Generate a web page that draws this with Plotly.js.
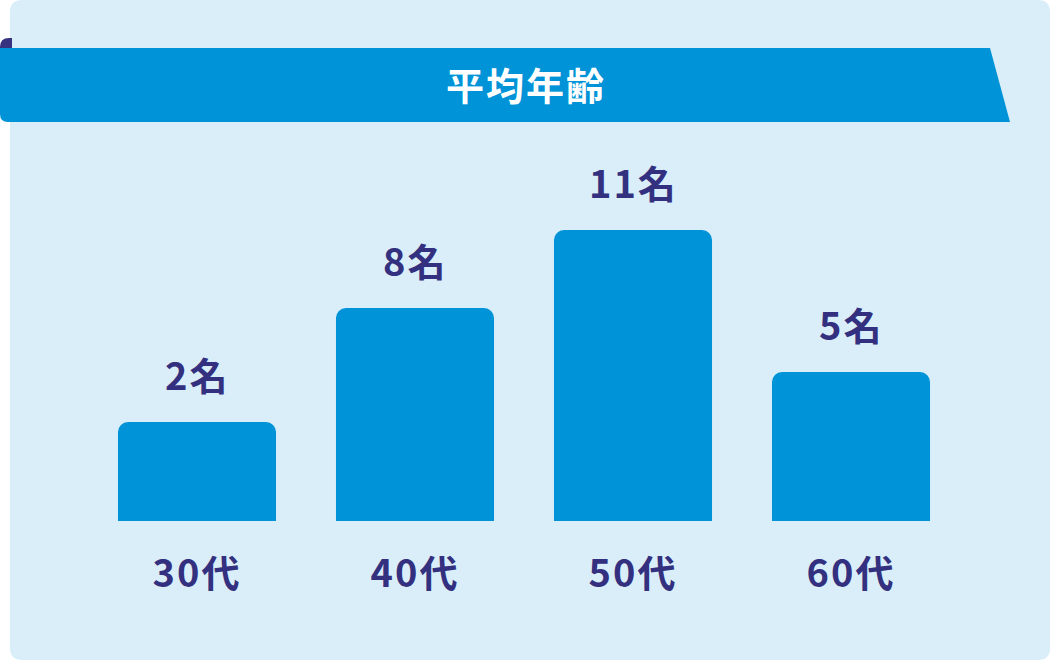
<!DOCTYPE html>
<html>
<head>
<meta charset="utf-8">
<script src="https://cdn.plot.ly/plotly-3.0.1.min.js"></script>
<style>
html,body{margin:0;padding:0;background:#fff;}
#chart{width:1050px;height:660px;}
#chart .annotation-text, #chart .xtick text{letter-spacing:2px;}
#chart .annotation:first-of-type .annotation-text{letter-spacing:4px;}
</style>
</head>
<body>
<div id="chart"></div>
<script>
// ---- data ----
const chartTitle = "平均年齢";
const categories = ["30代", "40代", "50代", "60代"];
const counts = [2, 8, 11, 5];            // label values (名)
const barLength = [99, 213, 291, 149];   // visual bar lengths as drawn in the reference
const countSuffix = "名";

// ---- styling ----
const W = 1050, H = 660;
const blue = "#0093d7", panel = "#d9eef9", ink = "#33307f", tab = "#37337f";
const fontFam = "'Noto Sans CJK JP', 'Noto Sans', sans-serif";
const px = x => x / W, py = y => 1 - y / H;

const panelPath = `M ${px(22)} ${py(0)} L ${px(1038)} ${py(0)} Q ${px(1050)} ${py(0)} ${px(1050)} ${py(12)} L ${px(1050)} ${py(648)} Q ${px(1050)} ${py(660)} ${px(1038)} ${py(660)} L ${px(22)} ${py(660)} Q ${px(10)} ${py(660)} ${px(10)} ${py(648)} L ${px(10)} ${py(12)} Q ${px(10)} ${py(0)} ${px(22)} ${py(0)} Z`;
const tabPath = `M ${px(0)} ${py(50)} L ${px(0)} ${py(47)} Q ${px(0)} ${py(38)} ${px(9)} ${py(38)} L ${px(12)} ${py(38)} L ${px(12)} ${py(50)} Z`;
const bannerPath = `M ${px(0)} ${py(48)} L ${px(990)} ${py(48)} L ${px(1010)} ${py(122)} L ${px(8)} ${py(122)} Q ${px(0)} ${py(122)} ${px(0)} ${py(114)} Z`;

const trace = {
  type: "bar",
  x: categories,
  y: barLength,
  marker: { color: blue, cornerradius: 10 },
  hoverinfo: "skip"
};

const valueAnns = categories.map((c, i) => ({
  x: c, y: barLength[i], xref: "x", yref: "y",
  text: counts[i] + countSuffix, showarrow: false,
  yanchor: "middle", yshift: 49,
  font: { family: fontFam, size: 38, color: ink, weight: 700 }
}));

const layout = {
  width: W, height: H,
  margin: { l: 0, r: 0, t: 0, b: 0 },
  paper_bgcolor: "#ffffff",
  plot_bgcolor: "rgba(0,0,0,0)",
  showlegend: false,
  bargap: 0.275,
  xaxis: {
    domain: [88 / W, 960 / W],
    type: "category",
    range: [-0.5, 3.5],
    showgrid: false, zeroline: false, showline: false, ticks: "",
    ticklabelstandoff: 27,
    tickfont: { family: fontFam, size: 38, color: ink, weight: 700 },
    fixedrange: true
  },
  yaxis: {
    domain: [139 / H, 530 / H],
    range: [0, 391],
    showgrid: false, zeroline: false, showline: false, showticklabels: false, ticks: "",
    fixedrange: true
  },
  shapes: [
    { type: "path", xref: "paper", yref: "paper", path: panelPath, fillcolor: panel, line: { width: 0 }, layer: "below" },
    { type: "path", xref: "paper", yref: "paper", path: tabPath, fillcolor: tab, line: { width: 0 }, layer: "below" },
    { type: "path", xref: "paper", yref: "paper", path: bannerPath, fillcolor: blue, line: { width: 0 }, layer: "below" }
  ],
  annotations: [
    { x: px(526), y: py(84), xref: "paper", yref: "paper", text: chartTitle, showarrow: false,
      xanchor: "center", yanchor: "middle",
      font: { family: fontFam, size: 38, color: "#ffffff", weight: 700 } }
  ].concat(valueAnns)
};

Plotly.newPlot("chart", [trace], layout, { displayModeBar: false, staticPlot: true });
</script>
</body>
</html>
